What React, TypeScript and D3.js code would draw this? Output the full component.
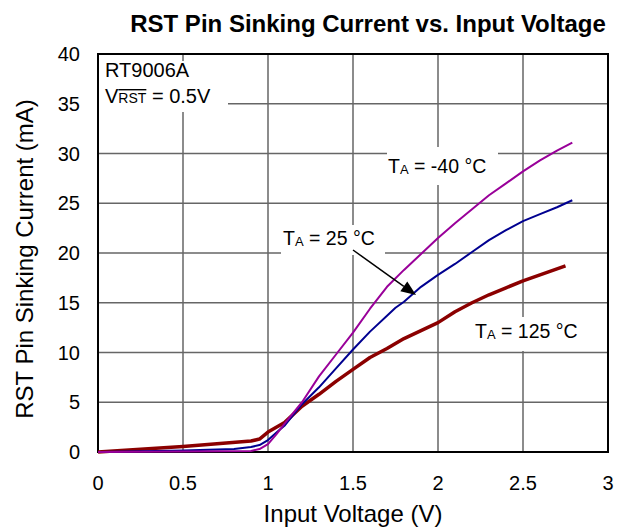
import React from "react";
import * as d3 from "d3";

const xTicks = [0, 0.5, 1, 1.5, 2, 2.5, 3];
const yTicks = [0, 5, 10, 15, 20, 25, 30, 35, 40];

const vM40 = [0, 0.5, 0.9, 0.95, 1.0, 1.05, 1.1, 1.2, 1.3, 1.4, 1.5, 1.6, 1.7, 1.8, 1.9, 2.0, 2.1, 2.2, 2.3, 2.4, 2.5, 2.6, 2.7, 2.79];
const iM40 = [0, 0.05, 0.1, 0.3, 0.8, 1.8, 2.9, 5.0, 7.6, 9.8, 12.0, 14.4, 16.6, 18.3, 19.9, 21.5, 23.0, 24.4, 25.8, 27.0, 28.2, 29.3, 30.3, 31.1];

const v25 = [0, 0.5, 0.8, 0.9, 0.95, 1.0, 1.06, 1.1, 1.2, 1.3, 1.4, 1.5, 1.6, 1.7, 1.75, 1.8, 1.9, 2.0, 2.1, 2.2, 2.3, 2.4, 2.5, 2.6, 2.7, 2.79];
const i25 = [0, 0.15, 0.3, 0.5, 0.7, 1.2, 2.1, 2.7, 4.8, 6.5, 8.4, 10.3, 12.1, 13.7, 14.5, 15.1, 16.6, 17.8, 18.9, 20.1, 21.3, 22.3, 23.2, 23.9, 24.6, 25.3];

const v125 = [0, 0.5, 0.9, 0.95, 1.0, 1.1, 1.2, 1.3, 1.4, 1.5, 1.6, 1.7, 1.8, 1.9, 2.0, 2.1, 2.2, 2.3, 2.4, 2.5, 2.6, 2.7, 2.75];
const i125 = [0, 0.55, 1.1, 1.3, 2.0, 3.0, 4.6, 5.8, 7.1, 8.3, 9.5, 10.4, 11.4, 12.2, 13.0, 14.1, 15.0, 15.8, 16.5, 17.2, 17.8, 18.4, 18.7];

const FONT = "'Liberation Sans', Arial, sans-serif";

export default function App() {
  const L = 98, R = 608, T = 54, B = 452;
  const x = d3.scaleLinear().domain([0, 3]).range([L, R]);
  const y = d3.scaleLinear().domain([0, 40]).range([B, T]);
  const line = d3.line<[number, number]>().x(d => x(d[0])).y(d => y(d[1]));
  const mk = (vs: number[], is: number[]) => line(vs.map((v, k) => [v, is[k]] as [number, number])) || "";

  const series = [
    { d: mk(v125, i125), color: "#8B0000", w: 3.5 },
    { d: mk(v25, i25), color: "#000090", w: 2 },
    { d: mk(vM40, iM40), color: "#990099", w: 2 },
  ];

  const ax = 353, ay = 250, bx = 416, by = 295;
  const ang = Math.atan2(by - ay, bx - ax);
  const hl = 15, hw = 6;
  const px = bx - hl * Math.cos(ang), py = by - hl * Math.sin(ang);
  const head = `M${bx},${by} L${px + hw * Math.sin(ang)},${py - hw * Math.cos(ang)} L${px - hw * Math.sin(ang)},${py + hw * Math.cos(ang)} Z`;

  const TA = (num: string, tx: number, ty: number) => (
    <text x={tx} y={ty} fontSize={19.5} fontFamily={FONT} fill="#000">
      T<tspan fontSize={13} dy={1}>A</tspan><tspan dy={-1}>{" = " + num + " °C"}</tspan>
    </text>
  );

  return (
    <svg width={640} height={531} style={{ position: "absolute", left: 0, top: 0, background: "#fff" }}>
      <rect x={0} y={0} width={640} height={531} fill="#fff" />
      {xTicks.map(t => (
        <line key={"gx" + t} x1={x(t)} x2={x(t)} y1={T} y2={B} stroke="#666" strokeWidth={1.5} />
      ))}
      {yTicks.map(t => (
        <line key={"gy" + t} x1={L} x2={R} y1={y(t)} y2={y(t)} stroke="#666" strokeWidth={1.5} />
      ))}
      <rect x={98} y={61} width={130} height={51} fill="#fff" />
      <rect x={387} y={147} width={111} height={38} fill="#fff" />
      <rect x={281} y={225} width={104} height={30} fill="#fff" />
      <rect x={470} y={317} width={115} height={34} fill="#fff" />
      <rect x={L} y={T} width={R - L} height={B - T} fill="none" stroke="#000" strokeWidth={2} />
      {series.map((s, k) => (
        <path key={k} d={s.d} fill="none" stroke={s.color} strokeWidth={s.w} strokeLinejoin="round" />
      ))}
      <line x1={ax} y1={ay} x2={px} y2={py} stroke="#000" strokeWidth={1.5} />
      <path d={head} fill="#000" />
      {xTicks.map(t => (
        <text key={"tx" + t} x={x(t)} y={490} textAnchor="middle" fontSize={20} fontFamily={FONT}>{t}</text>
      ))}
      {yTicks.map(t => (
        <text key={"ty" + t} x={80} y={y(t) + 7} textAnchor="end" fontSize={20} fontFamily={FONT}>{t}</text>
      ))}
      <text x={368} y={32} textAnchor="middle" fontSize={24} fontWeight="bold" fontFamily={FONT}>RST Pin Sinking Current vs. Input Voltage</text>
      <text x={353} y={522} textAnchor="middle" fontSize={24} fontFamily={FONT}>Input Voltage (V)</text>
      <text transform="translate(33,259) rotate(-90)" textAnchor="middle" fontSize={24} fontFamily={FONT}>RST Pin Sinking Current (mA)</text>
      <text x={105} y={77} fontSize={20} fontFamily={FONT}>RT9006A</text>
      <text x={105} y={103} fontSize={20} fontFamily={FONT}>
        V<tspan fontSize={14} style={{ textDecoration: "overline" }}>RST</tspan><tspan>{" = 0.5V"}</tspan>
      </text>
      {TA("-40", 388, 173)}
      {TA("25", 283, 245)}
      {TA("125", 475, 338)}
    </svg>
  );
}
